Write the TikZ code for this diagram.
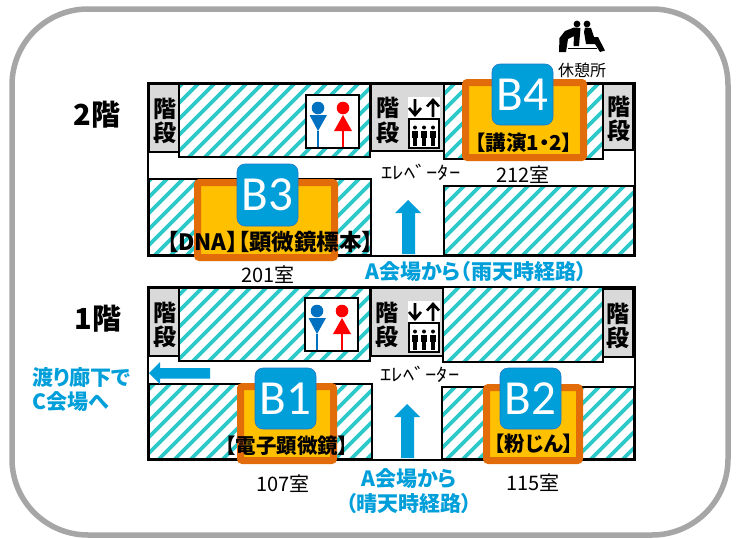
\documentclass[tikz,border=0pt]{standalone}
\usepackage{fontspec}
\usepackage{graphicx}
\setmainfont{Noto Sans CJK JP}
\newfontfamily\jp[RawFeature={+palt}]{Noto Sans CJK JP}
\newfontfamily\jpfull{Noto Sans CJK JP}
\newfontfamily\lat{Carlito}
\definecolor{hatchc}{HTML}{2CC8CA}
\definecolor{wayblue}{HTML}{009FDA}
\definecolor{stairc}{HTML}{D9D9D9}
\definecolor{roomo}{HTML}{E36C0A}
\definecolor{roomy}{HTML}{FFC000}
\definecolor{boxedge}{HTML}{1F78C8}
\definecolor{frameg}{HTML}{A6A6A6}
\definecolor{maleb}{HTML}{0070C0}
\newcommand{\fs}[1]{\fontsize{#1}{#1}\selectfont}
\tikzset{
  x=1pt,y=-1pt,
  wall/.style={draw=black,line width=2.8pt},
  part/.style={draw=black,line width=1.6pt},
  stairbox/.style={draw=black,line width=1.4pt,fill=stairc},
  room/.style={draw=roomo,fill=roomy,line width=7pt,rounded corners=2pt},
  tag/.style={draw=boxedge,line width=.6pt,fill=wayblue,rounded corners=8pt},
  tagtext/.style={text=white,font=\lat\fs{49},inner sep=0pt},
  lbl/.style={text=black,inner sep=0pt,font=\jp\bfseries\fs{20.5}},
  roomno/.style={text=black,inner sep=0pt,font=\jpfull\fs{20}},
  way/.style={text=wayblue,inner sep=0pt,font=\jp\bfseries\fs{21}},
  flow/.style={fill=wayblue,draw=none},
  stairtext/.style={text=black,inner sep=0pt,font=\jpfull\bfseries\fs{23}},
}
\newcommand{\hatchrect}[4]{%
  \begin{scope}
    \clip (#1,#2) rectangle (#3,#4);
    \fill[white] (#1,#2) rectangle (#3,#4);
    \foreach \k in {10,26,...,1300}{
      \draw[hatchc,line width=3.8pt] (\k,0) -- (0,\k);
    }
  \end{scope}
  \draw[part] (#1,#2) rectangle (#3,#4);
}
\newcommand{\toilet}[2]{%
  \begin{scope}[shift={(#1,#2)}]
    \draw[fill=white,draw=black,line width=1.5pt] (0,0) rectangle (53,53);
    \fill[maleb] (12,13) circle (6.3);
    \fill[maleb] (3.5,20) -- (21,20) -- (12,36) -- cycle;
    \fill[maleb] (10.7,36) rectangle (13.3,51.5);
    \fill[red] (37,13) circle (6.3);
    \fill[red] (37,20) -- (46,36) -- (28,36) -- cycle;
    \fill[red] (35.7,36) rectangle (38.3,51.5);
  \end{scope}
}
\newcommand{\lift}[2]{%
  \begin{scope}[shift={(#1,#2)}]
    \fill[white] (0,0) rectangle (32,21);
    \draw[black,line width=2.6pt] (7,2) -- (7,18) (1,11) -- (7,18) -- (13,11);
    \draw[black,line width=2.6pt] (25,3) -- (25,20) (19,9.5) -- (25,3) -- (31,9.5);
    \draw[black,line width=2.4pt,fill=white] (1,22) rectangle (31,51);
    \foreach \p in {7,16,25}{
      \fill[black] (\p,30.5) circle (2);
      \fill[black] (\p-3.2,33.5) rectangle (\p+3.2,41);
      \fill[black] (\p-2,41) rectangle (\p-.3,48.5);
      \fill[black] (\p+.3,41) rectangle (\p+2,48.5);
    }
  \end{scope}
}
\begin{document}
\begin{tikzpicture}
\useasboundingbox (0,0) rectangle (736,538);
\fill[white] (0,0) rectangle (736,538);
\draw[frameg,line width=5.5pt,rounded corners=76pt] (12,9) rectangle (728,535);

% ---------- 2F ----------
\draw[wall,fill=white] (148,83) rectangle (635,256);
\hatchrect{179}{84}{370}{157}
\hatchrect{149}{179}{371}{255}
\hatchrect{444}{84}{603}{159}
\hatchrect{444}{186}{634}{255}
\draw[stairbox] (149,84) rectangle (179,152);
\draw[stairbox] (371,84) rectangle (444,151);
\draw[stairbox] (603,84) rectangle (633,150);
\toilet{306}{95}
\lift{408}{97}
\node[stairtext] (s2a) at (165,109) {階};
\node[stairtext] (s2b) at (165,133) {段};
\node[stairtext] (s2c) at (388,108) {階};
\node[stairtext] (s2d) at (388,133) {段};
\node[stairtext] (s2e) at (619,107) {階};
\node[stairtext] (s2f) at (619,131) {段};
\fill[flow] (408,200) -- (421,213) -- (415,213) -- (415,254) -- (402,254) -- (402,213) -- (395,213) -- cycle;

\draw[room] (197.5,182.5) rectangle (334.5,257.5);
\draw[tag] (237,164) rectangle (298,226);
\node[tagtext] (b3) at (267.5,195) {B3};
\node[lbl,font=\jp\bfseries\fs{22.5}] (t3) at (270,242) {【DNA】【顕微鏡標本】};
\node[roomno] (r201) at (268,275) {201室};

\draw[room] (465.5,82.5) rectangle (583.5,157.5);
\draw[tag] (492,64) rectangle (553,125);
\node[tagtext] (b4) at (522.5,95) {B4};
\node[lbl] (t4) at (524,143) {【講演1・2】};
\node[roomno] (r212) at (523,175) {212室};
\node[inner sep=0pt] (e2) at (421,172) {\scalebox{1.25}[1]{\jpfull\fs{18}ｴﾚﾍﾞｰﾀｰ}};

% rest area icon
\fill[black] (577,24) circle (3.4) (587,24) circle (3.4);
\fill[black] (574,27.5) -- (580.5,28) -- (579,46) -- (573.5,46) -- (574,36) -- (568,39) -- (566,52) -- (559,52) -- (559.5,38) -- (565,31) -- cycle;
\fill[black] (585,27.5) -- (591,28) -- (594,37) -- (598,37) -- (605,50.5) -- (600,52) -- (595,44) -- (586,44) -- (584,32) -- cycle;
\draw[black,line width=1.4pt] (568,48.5) -- (597,48.5);
\node[lbl,font=\jpfull\fs{16}] (rest) at (582,70) {休憩所};

\node[lbl,font=\jpfull\bfseries\fs{29}] (f2) at (97,115) {2階};
\node[way] (w2) at (476,272) {A会場から（雨天時経路）};

% ---------- 1F ----------
\draw[wall,fill=white] (148,287) rectangle (635,460);
\hatchrect{179}{288}{370}{361}
\hatchrect{149}{384}{372}{459}
\hatchrect{443}{287}{603}{362}
\hatchrect{442}{387}{634}{459}
\draw[stairbox] (149,288) rectangle (179,356);
\draw[stairbox] (371,288) rectangle (443,356);
\draw[stairbox] (603,289) rectangle (633,357);
\toilet{305}{298}
\lift{408}{301}
\node[stairtext] (s1a) at (165,313) {階};
\node[stairtext] (s1b) at (165,337) {段};
\node[stairtext] (s1c) at (387,313) {階};
\node[stairtext] (s1d) at (387,337) {段};
\node[stairtext] (s1e) at (618,314) {階};
\node[stairtext] (s1f) at (618,338) {段};
\fill[flow] (407,404) -- (420,417) -- (414,417) -- (414,458) -- (401,458) -- (401,417) -- (394,417) -- cycle;
\fill[flow] (149,373) -- (160,362) -- (160,368) -- (210,368) -- (210,378.5) -- (160,378.5) -- (160,384) -- cycle;

\draw[room] (240.5,386.5) rectangle (333.5,460.5);
\draw[tag] (255,368) rectangle (316,429);
\node[tagtext] (b1) at (285.5,399) {B1};
\node[lbl] (t1) at (287,446) {【電子顕微鏡】};
\node[roomno] (r107) at (283,484) {107室};

\draw[room] (486.5,387.5) rectangle (579.5,460.5);
\draw[tag] (500,368) rectangle (561,429);
\node[tagtext] (b2) at (530.5,399) {B2};
\node[lbl] (t2) at (534,444) {【粉じん】};
\node[roomno] (r115) at (533,483) {115室};
\node[inner sep=0pt] (e1) at (420,374) {\scalebox{1.25}[1]{\jpfull\fs{18}ｴﾚﾍﾞｰﾀｰ}};

\node[lbl,font=\jpfull\bfseries\fs{29}] (f1) at (98,319) {1階};
\node[way,anchor=west] (c1) at (32,378) {渡り廊下で};
\node[way,anchor=west] (c2) at (32,402) {C会場へ};
\node[way] (w1a) at (409,479) {A会場から};
\node[way] (w1b) at (409,504) {（晴天時経路）};
\end{tikzpicture}
\end{document}
